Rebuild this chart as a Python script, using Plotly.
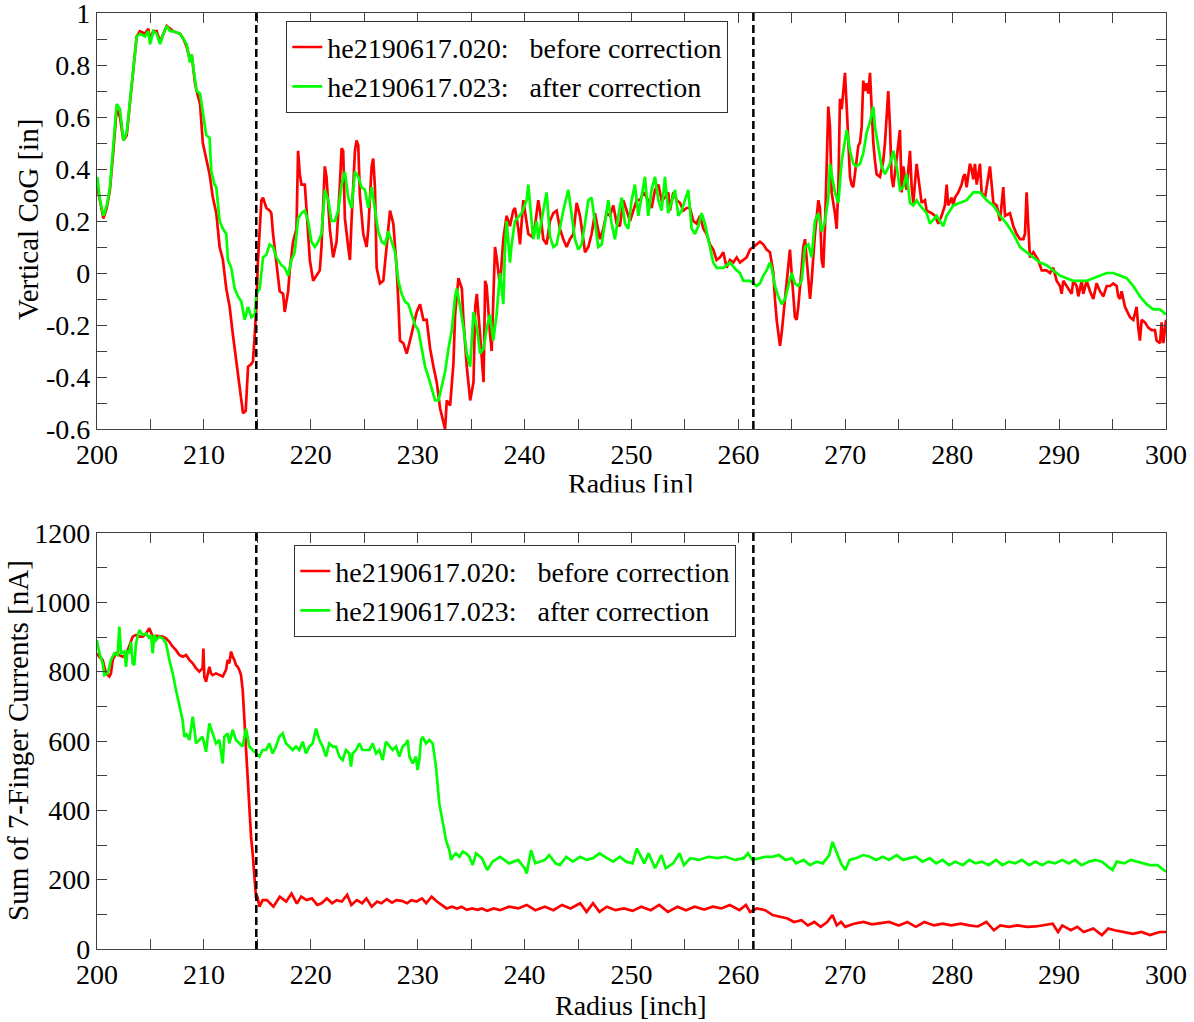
import plotly.graph_objects as go

# ---------------------------------------------------------------------------
# Vertical centre of gravity [in] versus radius [in]  (radius, value) pairs
# ---------------------------------------------------------------------------
cog_before = [
    (200.03, 0.33), (200.28, 0.27), (200.6, 0.21), (200.91, 0.25), (201.21, 0.32), (201.53, 0.47),
    (201.84, 0.63), (202.15, 0.60), (202.47, 0.51), (202.78, 0.53), (203.09, 0.66), (203.4, 0.79),
    (203.71, 0.91), (204.02, 0.93), (204.49, 0.92), (204.8, 0.94), (204.96, 0.90), (205.27, 0.93),
    (205.58, 0.93), (205.9, 0.89), (206.21, 0.92), (206.52, 0.95), (206.83, 0.94), (207.14, 0.93),
    (207.77, 0.92), (208.08, 0.90), (208.39, 0.87), (208.7, 0.82), (208.86, 0.84), (209.01, 0.78),
    (209.17, 0.73), (209.32, 0.70), (209.64, 0.65), (209.9, 0.50),
    (210.53, 0.38), (210.84, 0.29), (211.16, 0.23), (211.47, 0.10), (211.78, 0.05), (212.09, -0.06),
    (212.41, -0.13), (212.72, -0.24), (213.03, -0.34), (213.34, -0.44), (213.66, -0.54), (213.91, -0.53),
    (214.13, -0.36), (214.44, -0.35), (214.59, -0.34), (214.75, -0.24), (214.91, -0.13), (215.06, 0.05),
    (215.38, 0.28), (215.53, 0.29), (215.84, 0.25), (216.16, 0.24), (216.31, 0.23), (216.47, 0.15),
    (216.78, 0.05), (217.09, -0.07), (217.41, -0.08), (217.56, -0.15), (217.88, -0.07), (218.03, 0.01),
    (218.34, 0.12), (218.66, 0.17), (218.81, 0.47), (218.97, 0.38), (219.13, 0.34), (219.44, 0.34),
    (219.59, 0.25), (219.91, 0.05), (220.22, -0.03), (220.53, -0.01), (220.84, 0.01), (221.0, 0.10),
    (221.31, 0.41), (221.47, 0.37), (221.78, 0.17), (222.09, 0.06), (222.41, 0.12), (222.72, 0.34),
    (222.88, 0.48), (223.03, 0.47), (223.19, 0.21), (223.5, 0.10), (223.66, 0.05), (223.81, 0.20),
    (224.13, 0.47), (224.28, 0.51), (224.44, 0.49), (224.59, 0.30), (224.91, 0.15), (225.22, 0.10),
    (225.38, 0.17), (225.69, 0.41), (225.84, 0.44), (226.0, 0.33), (226.16, 0.02), (226.47, -0.04),
    (226.78, -0.03), (227.09, 0.10), (227.41, 0.24), (227.72, 0.19), (228.03, 0.02), (228.19, -0.11),
    (228.34, -0.26), (228.66, -0.27), (228.97, -0.31), (229.28, -0.26), (229.59, -0.21), (229.91, -0.15),
    (230.22, -0.12), (230.53, -0.18), (230.84, -0.18), (231.16, -0.29), (231.47, -0.36), (231.78, -0.42),
    (232.09, -0.52), (232.41, -0.57), (232.56, -0.60), (232.72, -0.49), (233.03, -0.51), (233.34, -0.35),
    (233.5, -0.16), (233.81, -0.02), (234.13, -0.06), (234.28, -0.18), (234.59, -0.36), (234.91, -0.49),
    (235.22, -0.42), (235.38, -0.13), (235.53, -0.08), (235.84, -0.24), (236.16, -0.42), (236.31, -0.03),
    (236.45, -0.05), (236.76, -0.23), (236.92, -0.30), (237.23, 0.10), (237.38, 0.06), (237.70, -0.05),
    (238.01, 0.13), (238.32, 0.22), (238.63, 0.18), (238.94, 0.24), (239.1, 0.25), (239.41, 0.17),
    (239.57, 0.11), (239.88, 0.28), (240.03, 0.24), (240.35, 0.15), (240.66, 0.14), (240.97, 0.18),
    (241.28, 0.28), (241.44, 0.24), (241.75, 0.13), (242.06, 0.11), (242.37, 0.20), (242.69, 0.23),
    (243.0, 0.24), (243.31, 0.17), (243.62, 0.13), (243.93, 0.10), (244.24, 0.13), (244.56, 0.15),
    (244.87, 0.27), (245.18, 0.22), (245.49, 0.13), (245.65, 0.08), (245.96, 0.10), (246.27, 0.15),
    (246.58, 0.23), (247.05, 0.13), (247.36, 0.17), (247.67, 0.23), (247.99, 0.22), (248.3, 0.26),
    (248.61, 0.19), (248.92, 0.18), (249.23, 0.28), (249.55, 0.24), (249.86, 0.20), (250.17, 0.24),
    (250.48, 0.28), (250.79, 0.28), (251.11, 0.31), (251.42, 0.29), (251.88, 0.25), (252.2, 0.32),
    (252.51, 0.34), (252.82, 0.28), (253.13, 0.29), (253.44, 0.31), (253.6, 0.24), (253.91, 0.31),
    (254.22, 0.28), (254.53, 0.27), (254.85, 0.24), (255.16, 0.25), (255.47, 0.25), (255.78, 0.20),
    (256.09, 0.19), (256.41, 0.22), (256.72, 0.17), (257.03, 0.15), (257.34, 0.11), (257.65, 0.09),
    (257.96, 0.05), (258.28, 0.06), (258.59, 0.08), (258.9, 0.02), (259.21, 0.05), (259.52, 0.04),
    (259.84, 0.06), (260.15, 0.04), (260.46, 0.05), (260.77, 0.06), (261.08, 0.09), (261.39, 0.10),
    (261.71, 0.11), (262.02, 0.12), (262.33, 0.11), (262.64, 0.09), (262.95, 0.08), (263.27, 0.0),
    (263.42, -0.10), (263.58, -0.18), (263.89, -0.28), (264.05, -0.23), (264.36, -0.10), (264.67, 0.05),
    (264.82, 0.09), (264.98, 0.0), (265.29, -0.17), (265.45, -0.18), (265.6, -0.13), (265.92, 0.02),
    (266.07, 0.10), (266.23, 0.13), (266.38, 0.05), (266.7, -0.10), (266.85, -0.03), (267.01, 0.08),
    (267.16, 0.15), (267.48, 0.28), (267.63, 0.25), (267.79, 0.05), (267.94, 0.02),
    (268.1, 0.18), (268.25, 0.43), (268.41, 0.64), (268.57, 0.56), (268.72, 0.31), (269.03, 0.23),
    (269.19, 0.17), (269.35, 0.33), (269.5, 0.67), (269.66, 0.63), (269.81, 0.69), (269.97, 0.77),
    (270.13, 0.64), (270.28, 0.50), (270.44, 0.37), (270.59, 0.34), (270.75, 0.33), (270.9, 0.38),
    (271.06, 0.43), (271.22, 0.49), (271.37, 0.50), (271.53, 0.56), (271.68, 0.74), (271.84, 0.70),
    (272.0, 0.73), (272.15, 0.69), (272.31, 0.77), (272.46, 0.63), (272.62, 0.50), (272.78, 0.43),
    (272.93, 0.38), (273.24, 0.37), (273.55, 0.43), (273.71, 0.50), (273.87, 0.59), (274.02, 0.70),
    (274.18, 0.56), (274.33, 0.37), (274.49, 0.33), (274.8, 0.43), (275.11, 0.55), (275.27, 0.31),
    (275.43, 0.41), (275.74, 0.32), (276.05, 0.47), (276.21, 0.33), (276.36, 0.27), (276.67, 0.42),
    (276.99, 0.31), (277.14, 0.27), (277.45, 0.28), (277.61, 0.24), (278.08, 0.23), (278.39, 0.22),
    (278.7, 0.19), (279.01, 0.22), (279.32, 0.26), (279.48, 0.34), (279.63, 0.26), (279.95, 0.29),
    (280.1, 0.26), (280.26, 0.29), (280.57, 0.31), (280.88, 0.34), (281.04, 0.37), (281.19, 0.38),
    (281.35, 0.33), (281.66, 0.42), (281.82, 0.40), (281.97, 0.36), (282.13, 0.42), (282.29, 0.34),
    (282.6, 0.42), (282.75, 0.31), (283.07, 0.29), (283.53, 0.41), (283.85, 0.27), (284.16, 0.26),
    (284.47, 0.20), (284.78, 0.33), (284.94, 0.22), (285.4, 0.23), (285.72, 0.18), (286.03, 0.15),
    (286.34, 0.13), (286.65, 0.13), (286.81, 0.15), (286.96, 0.31), (287.12, 0.18), (287.27, 0.06),
    (287.59, 0.08), (288.05, 0.05), (288.37, 0.01), (288.83, 0.01), (289.15, 0.0), (289.46, 0.02),
    (289.77, -0.03), (290.08, -0.05), (290.24, -0.08), (290.39, -0.03), (290.7, -0.05), (291.02, -0.07),
    (291.17, -0.08), (291.33, -0.03), (291.64, -0.05), (291.8, -0.09), (292.11, -0.03), (292.26, -0.08),
    (292.58, -0.03), (292.89, -0.07), (293.2, -0.10), (293.51, -0.04), (293.82, -0.07), (294.14, -0.09),
    (294.45, -0.05), (294.76, -0.05), (295.07, -0.04), (295.38, -0.05), (295.54, -0.09), (295.7, -0.10),
    (295.85, -0.07), (296.16, -0.13), (296.47, -0.16), (296.63, -0.17), (296.94, -0.18), (297.25, -0.13),
    (297.41, -0.21), (297.56, -0.26), (297.72, -0.18), (298.03, -0.19), (298.34, -0.21), (298.66, -0.22),
    (298.97, -0.22), (299.12, -0.26), (299.44, -0.27), (299.59, -0.19), (299.75, -0.27), (299.9, -0.21),
    (300.0, -0.18),
]

cog_after = [
    (200.03, 0.37), (200.28, 0.28), (200.6, 0.22), (200.91, 0.26), (201.21, 0.33), (201.53, 0.49),
    (201.84, 0.65), (202.15, 0.63), (202.47, 0.51), (202.78, 0.54), (203.09, 0.67), (203.4, 0.79),
    (203.71, 0.91), (204.02, 0.92), (204.49, 0.91), (204.8, 0.93), (204.96, 0.88), (205.27, 0.93),
    (205.58, 0.92), (205.9, 0.88), (206.21, 0.92), (206.52, 0.95), (206.83, 0.93), (207.14, 0.93),
    (207.77, 0.92), (208.08, 0.90), (208.39, 0.88), (208.7, 0.81), (208.86, 0.84), (209.01, 0.79),
    (209.17, 0.73), (209.32, 0.70), (209.64, 0.69), (209.95, 0.60),
    (210.22, 0.53), (210.53, 0.52), (210.69, 0.39), (211.0, 0.34), (211.16, 0.33), (211.47, 0.20),
    (211.78, 0.17), (212.09, 0.15), (212.25, 0.05), (212.56, 0.02), (212.88, -0.06), (213.19, -0.09),
    (213.5, -0.11), (213.81, -0.18), (214.13, -0.13), (214.44, -0.17), (214.75, -0.16), (214.91, -0.08),
    (215.22, -0.06), (215.53, 0.06), (215.84, 0.07), (216.16, 0.11), (216.47, 0.10), (216.78, 0.06),
    (217.25, 0.03), (217.56, 0.02), (217.88, -0.01), (218.19, 0.05), (218.5, 0.08), (218.81, 0.21),
    (219.13, 0.23), (219.44, 0.24), (219.75, 0.20), (220.06, 0.12), (220.38, 0.10), (220.69, 0.12),
    (221.0, 0.15), (221.31, 0.32), (221.63, 0.28), (221.94, 0.20), (222.25, 0.20), (222.56, 0.24),
    (222.88, 0.34), (223.19, 0.39), (223.5, 0.29), (223.81, 0.25), (224.13, 0.39), (224.44, 0.37),
    (224.75, 0.33), (225.06, 0.32), (225.38, 0.25), (225.69, 0.33), (226.0, 0.24), (226.31, 0.16),
    (226.63, 0.12), (226.94, 0.11), (227.25, 0.16), (227.56, 0.12), (227.88, 0.08), (228.19, -0.03),
    (228.5, -0.08), (228.81, -0.11), (229.13, -0.12), (229.44, -0.16), (229.75, -0.20), (230.06, -0.22),
    (230.38, -0.30), (230.69, -0.36), (231.0, -0.40), (231.31, -0.45), (231.63, -0.49), (231.94, -0.49),
    (232.25, -0.44), (232.56, -0.38), (232.88, -0.29), (233.19, -0.22), (233.5, -0.09), (233.66, -0.06),
    (233.97, -0.13), (234.28, -0.21), (234.59, -0.31), (234.91, -0.36), (235.22, -0.15), (235.53, -0.21),
    (235.84, -0.31), (236.16, -0.29), (236.47, -0.21),
    (236.76, -0.16), (237.07, -0.26), (237.38, -0.16), (237.7, 0.0), (238.01, -0.12), (238.16, 0.09),
    (238.32, 0.20), (238.63, 0.04), (238.79, 0.11), (239.1, 0.20), (239.72, 0.23), (240.19, 0.28),
    (240.35, 0.34), (240.5, 0.27), (240.81, 0.13), (241.13, 0.20), (241.28, 0.13), (241.75, 0.24),
    (242.06, 0.31), (242.37, 0.14), (242.69, 0.10), (243.0, 0.11), (243.31, 0.18), (243.62, 0.24),
    (244.09, 0.32), (244.4, 0.23), (244.71, 0.13), (245.02, 0.09), (245.34, 0.11), (245.65, 0.19),
    (245.96, 0.28), (246.27, 0.29), (246.58, 0.19), (246.89, 0.10), (247.21, 0.11), (247.52, 0.19),
    (247.83, 0.28), (248.14, 0.19), (248.45, 0.13), (248.77, 0.22), (249.08, 0.29), (249.39, 0.19),
    (249.7, 0.17), (250.01, 0.28), (250.32, 0.34), (250.64, 0.22), (250.95, 0.29), (251.26, 0.37),
    (251.57, 0.22), (251.88, 0.32), (252.2, 0.37), (252.51, 0.28), (252.82, 0.24), (253.13, 0.37),
    (253.44, 0.23), (253.76, 0.28), (254.07, 0.32), (254.38, 0.22), (254.69, 0.24), (255.0, 0.28),
    (255.31, 0.32), (255.63, 0.17), (255.94, 0.15), (256.25, 0.18), (256.56, 0.23), (256.87, 0.19),
    (257.19, 0.13), (257.5, 0.08), (257.65, 0.04), (257.96, 0.02), (258.59, 0.02), (259.21, 0.04),
    (259.84, 0.01), (260.15, 0.0), (260.46, -0.03), (261.08, -0.03), (261.71, -0.05), (262.02, -0.04),
    (262.33, -0.01), (262.64, 0.01), (262.95, 0.04), (263.11, 0.02), (263.42, -0.05), (263.73, -0.09),
    (264.05, -0.12), (264.36, -0.10), (264.67, -0.05), (264.98, 0.0), (265.29, -0.04), (265.6, -0.05),
    (265.92, -0.03), (266.23, 0.10), (266.54, 0.11), (266.85, 0.06), (267.16, 0.20), (267.48, 0.23),
    (267.79, 0.16), (268.1, 0.20), (268.41, 0.29), (268.57, 0.42), (268.72, 0.38), (269.03, 0.31),
    (269.35, 0.27), (269.66, 0.43), (269.97, 0.51), (270.13, 0.55), (270.44, 0.47), (270.75, 0.42),
    (271.06, 0.41),
    (271.37, 0.42), (271.68, 0.46), (272.0, 0.54), (272.31, 0.58), (272.62, 0.64), (272.78, 0.56),
    (273.09, 0.49), (273.4, 0.41), (273.71, 0.38), (274.18, 0.42), (274.49, 0.47), (274.8, 0.41),
    (275.11, 0.32), (275.43, 0.33), (275.74, 0.38), (276.05, 0.27), (276.36, 0.26), (276.67, 0.28),
    (276.99, 0.26), (277.61, 0.23), (277.92, 0.19), (278.54, 0.22), (279.17, 0.18), (279.48, 0.22),
    (280.1, 0.26), (280.73, 0.27), (281.35, 0.28), (281.97, 0.31), (282.6, 0.31), (283.22, 0.28),
    (283.85, 0.26), (284.47, 0.22), (285.09, 0.19), (285.72, 0.15), (286.34, 0.10), (286.96, 0.08),
    (287.59, 0.06), (288.21, 0.04), (288.83, 0.03), (289.46, 0.01), (290.08, -0.01), (290.7, -0.02),
    (291.33, -0.03), (291.95, -0.03), (292.58, -0.03), (293.2, -0.02), (293.82, -0.01), (294.45, 0.0),
    (295.07, 0.0), (295.7, -0.01), (296.32, -0.02), (296.94, -0.05), (297.56, -0.09), (298.19, -0.12),
    (298.81, -0.14), (299.44, -0.14), (300.0, -0.16),
]

# ---------------------------------------------------------------------------
# Sum of the 7-finger probe currents [nA] versus radius [inch]
# ---------------------------------------------------------------------------
sum_before = [
    (200.0, 853), (200.22, 843), (200.53, 834), (200.84, 795), (201.15, 786), (201.31, 795),
    (201.47, 834), (201.78, 853), (202.09, 848), (202.4, 843), (202.71, 848), (203.02, 872),
    (203.34, 901), (203.65, 906), (203.96, 901), (204.27, 901), (204.58, 910), (204.9, 925),
    (205.05, 910), (205.21, 901), (205.52, 903), (205.83, 901), (206.14, 901), (206.45, 896),
    (206.77, 886), (207.08, 872), (207.39, 862), (207.7, 848), (208.01, 843), (208.33, 848),
    (208.64, 834), (208.95, 824), (209.26, 810), (209.57, 800), (209.88, 810), (209.95, 867),
    (210.04, 785), (210.2, 771), (210.51, 814), (210.66, 795), (210.82, 790), (211.13, 795),
    (211.44, 790), (211.76, 786), (212.07, 805), (212.22, 834), (212.38, 824), (212.54, 858),
    (212.69, 843), (212.85, 834), (213.0, 819), (213.16, 814), (213.31, 805), (213.47, 790),
    (213.63, 747), (213.78, 660), (213.94, 574), (214.09, 487), (214.25, 420), (214.41, 324),
    (214.56, 276), (214.72, 218), (214.87, 151), (215.0, 151), (215.2, 122), (215.5, 141),
    (215.9, 141), (216.5, 122), (217.1, 151), (217.7, 137), (218.2, 160), (218.7, 131),
    (219.1, 151), (219.6, 141), (220.1, 146), (220.6, 127), (221.0, 132), (221.5, 146),
    (222.0, 132), (222.4, 141), (222.9, 137), (223.4, 156), (223.8, 127), (224.3, 141),
    (224.8, 132), (225.2, 146), (225.7, 122), (226.2, 137), (226.6, 132), (227.1, 144),
    (227.6, 134), (228.0, 141), (228.5, 139), (229.0, 132), (229.4, 141), (229.9, 137),
    (230.4, 146), (230.8, 132), (231.3, 151), (231.8, 137), (232.3, 127), (232.7, 117),
    (233.2, 122), (233.7, 117), (234.1, 122), (234.6, 113), (235.1, 117), (235.6, 113),
    (236.0, 117), (236.5, 110), (237.1, 117), (237.7, 112), (238.55, 122), (239.4, 117),
    (240.2, 127), (241.0, 112), (241.9, 122), (242.7, 112), (243.5, 127), (244.3, 117),
    (245.2, 132), (245.8, 107), (246.4, 132), (247.0, 107), (247.7, 122), (248.5, 112),
    (249.3, 117), (250.1, 110), (250.9, 122), (251.8, 112), (252.6, 127), (253.4, 107),
    (254.3, 122), (255.1, 112), (255.9, 122), (256.8, 114), (257.6, 122), (258.4, 117),
    (259.2, 127), (260.1, 112), (260.7, 127), (261.1, 107), (261.7, 117), (262.5, 112),
    (263.2, 98), (263.8, 93), (264.6, 88), (265.2, 78), (265.9, 83), (266.5, 68),
    (267.1, 78), (267.7, 64), (268.3, 78), (268.8, 98), (269.2, 68), (269.6, 78),
    (270.0, 64), (270.8, 73), (271.7, 78), (272.5, 71), (273.3, 75), (274.1, 78),
    (275.0, 68), (275.8, 78), (276.6, 64), (277.4, 78), (278.3, 68), (279.1, 73),
    (279.9, 68), (280.8, 73), (281.6, 68), (282.4, 65), (283.2, 78), (283.9, 54),
    (284.5, 68), (285.3, 64), (286.1, 68), (287.0, 64), (287.8, 65), (288.6, 68),
    (289.4, 73), (289.9, 49), (290.3, 68), (291.1, 54), (291.7, 64), (292.3, 49),
    (293.2, 59), (294.0, 40), (294.6, 59), (295.2, 54), (296.1, 49), (296.9, 44),
    (297.7, 49), (298.5, 40), (299.4, 49), (300.0, 49),
]

sum_after = [
    (200.0, 891), (200.22, 853), (200.53, 824), (200.69, 790), (201.0, 795), (201.31, 834),
    (201.62, 853), (201.93, 848), (202.09, 930), (202.25, 853), (202.56, 858), (202.71, 814),
    (202.87, 862), (203.02, 853), (203.18, 886), (203.34, 824), (203.49, 819), (203.65, 882),
    (203.8, 901), (203.96, 920), (204.27, 906), (204.58, 910), (204.9, 896), (205.05, 906),
    (205.21, 853), (205.36, 906), (205.52, 891), (205.83, 901), (206.14, 896), (206.45, 882),
    (206.77, 834), (207.08, 795), (207.39, 747), (207.7, 699), (207.86, 680), (208.01, 660),
    (208.17, 612), (208.33, 622), (208.64, 603), (208.95, 670), (209.11, 636), (209.26, 593),
    (209.57, 603), (209.88, 612), (210.2, 569), (210.51, 651), (210.82, 622), (211.13, 593),
    (211.44, 603), (211.76, 535), (211.91, 612), (212.22, 622), (212.38, 593), (212.69, 632),
    (213.0, 603), (213.31, 593), (213.63, 584), (213.94, 636), (214.09, 612), (214.25, 584),
    (214.56, 574), (214.87, 564), (215.19, 555), (215.5, 574), (215.81, 574), (216.12, 593),
    (216.43, 564), (216.74, 584), (217.06, 612), (217.37, 622), (217.68, 593), (217.99, 584),
    (218.3, 574), (218.62, 584), (218.93, 574), (219.24, 598), (219.55, 564), (219.86, 584),
    (220.17, 593), (220.49, 636), (220.8, 603), (221.11, 584), (221.42, 555), (221.73, 593),
    (222.05, 584), (222.36, 584), (222.67, 555), (222.98, 545), (223.29, 574), (223.6, 564),
    (223.76, 526), (223.92, 564), (224.23, 574), (224.54, 593), (224.85, 574), (225.16, 574),
    (225.48, 574), (225.79, 593), (226.1, 564), (226.41, 574), (226.72, 545), (227.03, 598),
    (227.35, 584), (227.66, 574), (227.97, 584), (228.28, 555), (228.59, 584), (228.91, 593),
    (229.06, 603), (229.22, 555), (229.53, 535), (229.84, 555), (229.99, 516), (230.15, 545),
    (230.31, 603), (230.46, 612), (230.78, 593), (231.09, 603), (231.4, 593), (231.71, 526),
    (232.02, 420), (232.34, 362), (232.65, 314), (232.96, 285), (233.12, 257), (233.27, 266),
    (233.58, 276), (233.9, 266), (234.21, 281), (234.52, 276), (234.83, 266), (235.14, 242),
    (235.46, 276), (236.0, 262), (236.5, 228), (237.0, 252), (237.7, 266), (238.55, 247),
    (239.4, 257), (240.0, 233), (240.2, 218), (240.6, 285), (241.0, 247), (241.9, 257),
    (242.3, 271), (242.9, 247), (243.3, 242), (243.9, 266), (244.5, 252), (245.2, 266),
    (245.8, 257), (246.4, 262), (247.0, 276), (247.7, 262), (248.3, 252), (248.9, 266),
    (249.5, 252), (250.1, 247), (250.5, 290), (251.2, 247), (251.6, 276), (252.2, 233),
    (252.8, 271), (253.2, 233), (253.9, 247), (254.5, 276), (254.9, 242), (255.5, 262),
    (256.3, 257), (257.2, 266), (258.0, 262), (258.8, 266), (259.7, 257), (260.5, 262),
    (260.9, 276), (261.3, 257), (261.9, 262), (262.5, 266), (263.2, 266), (263.8, 271),
    (264.4, 257), (265.0, 262), (265.4, 247), (266.1, 257), (266.7, 242), (267.3, 252),
    (267.9, 247), (268.5, 271), (268.8, 309), (269.2, 276), (269.6, 247), (270.0, 228),
    (270.4, 257), (271.0, 262), (271.7, 271), (272.3, 266), (272.9, 257), (273.5, 266),
    (274.1, 257), (274.8, 271), (275.4, 257), (276.0, 262), (276.6, 266), (277.2, 252),
    (277.9, 262), (278.5, 247), (279.1, 257), (279.7, 242), (280.3, 252), (281.0, 242),
    (281.6, 257), (282.2, 247), (282.8, 252), (283.4, 242), (284.1, 257), (284.7, 242),
    (285.3, 252), (285.9, 247), (286.5, 257), (287.2, 242), (287.8, 252), (288.4, 242),
    (289.0, 252), (289.6, 247), (290.3, 257), (290.9, 247), (291.5, 257), (292.1, 242),
    (292.8, 252), (293.4, 257), (294.0, 252), (294.6, 237), (295.0, 228), (295.4, 252),
    (296.1, 247), (296.7, 257), (297.3, 252), (297.9, 247), (298.5, 242), (299.2, 242),
    (300.0, 223),
]

# Radii of the two marked boundaries (dashed lines)
boundaries = [214.9, 261.4]

# Series names
name_before = "he2190617.020:\u00a0\u00a0\u00a0before correction"
name_after = "he2190617.023:\u00a0\u00a0\u00a0after correction"

# Tick values / labels
x_ticks = [200, 210, 220, 230, 240, 250, 260, 270, 280, 290, 300]
x_minor = [205, 215, 225, 235, 245, 255, 265, 275, 285, 295]
cog_ticks = [-0.6, -0.4, -0.2, 0, 0.2, 0.4, 0.6, 0.8, 1]
cog_labels = ["-0.6", "-0.4", "-0.2", "0", "0.2", "0.4", "0.6", "0.8", "1"]
cog_minor = [-0.5, -0.3, -0.1, 0.1, 0.3, 0.5, 0.7, 0.9]
sum_ticks = [0, 200, 400, 600, 800, 1000, 1200]
sum_minor = [100, 300, 500, 700, 900, 1100]

FONT = "Liberation Serif"
RED = "#ff0000"
GREEN = "#00ff00"
AXIS = "#404040"
W, H = 1194, 1022


def split(pairs):
    return [p[0] for p in pairs], [p[1] for p in pairs]


fig = go.Figure()

for pairs, name, color, xa, ya, leg in [
    (cog_before, name_before, RED, "x", "y", "legend"),
    (cog_after, name_after, GREEN, "x", "y", "legend"),
    (sum_before, name_before, RED, "x2", "y2", "legend2"),
    (sum_after, name_after, GREEN, "x2", "y2", "legend2"),
]:
    r, v = split(pairs)
    fig.add_trace(go.Scatter(
        x=r, y=v, mode="lines", name=name, xaxis=xa, yaxis=ya, legend=leg,
        line=dict(color=color, width=2.7),
    ))

# Dashed boundary markers spanning each panel
for xr, yr in [("x", "y domain"), ("x2", "y2 domain")]:
    for b in boundaries:
        fig.add_shape(type="line", xref=xr, yref=yr, x0=b, x1=b, y0=0, y1=1,
                      line=dict(color="black", width=2.5, dash="8px,4px"))


def axis_style(tickvals, ticktext, minor_vals, rng, domain, anchor):
    return dict(
        range=rng, domain=domain, anchor=anchor, automargin=False,
        tickmode="array", tickvals=tickvals, ticktext=ticktext,
        ticklabeloverflow="allow",
        showline=True, linecolor=AXIS, linewidth=1.3, mirror="ticks",
        ticks="inside", ticklen=10, tickwidth=1.2, tickcolor=AXIS,
        showgrid=False, zeroline=False,
        tickfont=dict(family=FONT, size=28, color="black"),
        minor=dict(tickmode="array", tickvals=minor_vals, ticks="inside",
                   ticklen=10, tickwidth=1.2, tickcolor=AXIS, showgrid=False),
    )


xdom = [97 / W, 1166 / W]
top_dom = [1 - 429 / H, 1 - 13 / H]
bot_dom = [1 - 949 / H, 1 - 533 / H]

legend_common = dict(
    xanchor="left", yanchor="top", bgcolor="white",
    bordercolor="#303030", borderwidth=1.3,
    font=dict(family=FONT, size=28, color="black"),
    tracegroupgap=0,
)

fig.update_layout(
    width=W, height=H,
    margin=dict(l=0, r=0, t=0, b=0, autoexpand=False),
    paper_bgcolor="white", plot_bgcolor="white",
    xaxis=axis_style(x_ticks, [str(t) for t in x_ticks], x_minor, [200, 300], xdom, "y"),
    yaxis=axis_style(cog_ticks, cog_labels, cog_minor, [-0.6, 1], top_dom, "x"),
    xaxis2=axis_style(x_ticks, [str(t) for t in x_ticks], x_minor, [200, 300], xdom, "y2"),
    yaxis2=axis_style(sum_ticks, [str(t) for t in sum_ticks], sum_minor, [0, 1200], bot_dom, "x2"),
    legend=dict(x=286 / W, y=1 - 21 / H, **legend_common),
    legend2=dict(x=294 / W, y=1 - 545 / H, **legend_common),
    showlegend=True,
)

# Axis titles
title_font = dict(family=FONT, size=29, color="black")
fig.add_annotation(text="Vertical CoG [in]", x=28 / W, y=1 - 220 / H, xref="paper", yref="paper",
                   textangle=-90, showarrow=False, font=title_font, xanchor="center", yanchor="middle")
fig.add_annotation(text="Sum of 7-Finger Currents [nA]", x=18 / W, y=1 - 741 / H, xref="paper",
                   yref="paper", textangle=-90, showarrow=False, font=title_font,
                   xanchor="center", yanchor="middle")
fig.add_annotation(text="Radius [in]", x=630 / W, y=1 - 466 / H, xref="paper", yref="paper",
                   showarrow=False, font=dict(family=FONT, size=28, color="black"),
                   xanchor="center", yanchor="top")
fig.add_annotation(text="Radius [inch]", x=631 / W, y=1 - 988 / H, xref="paper", yref="paper",
                   showarrow=False, font=dict(family=FONT, size=28, color="black"),
                   xanchor="center", yanchor="top")
# blank band trimming the foot of the upper radius label
fig.add_annotation(text=" ", x=630 / W, y=1 - 492 / H, xref="paper", yref="paper",
                   showarrow=False, width=200, height=20, bgcolor="white",
                   xanchor="center", yanchor="top")

fig.write_html("out.html")
